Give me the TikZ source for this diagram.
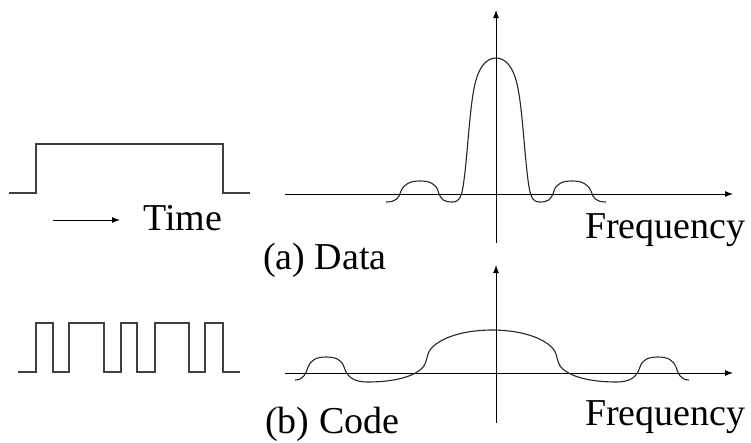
\documentclass[tikz,border=0pt]{standalone}
\usepackage{fontspec}
\setmainfont{Liberation Serif}
\usetikzlibrary{arrows.meta}

\begin{document}
\begin{tikzpicture}[x=1pt, y=-1pt, every node/.style={font=\fontsize{38}{40}\selectfont, inner sep=0pt}, >={Latex[length=8pt, width=6pt]},
	wave/.style={black!75, line width=1.3pt},
	axis/.style={->, line width=1pt},
	spec/.style={black!85, line width=1.1pt}]
	\useasboundingbox (0,0) rectangle (751,442);
	\draw[wave] (9,193) -| (36,144) -| (223,193) -- (250,193);
	\coordinate (tstart) at (53,220);
	\coordinate (tend) at (120,220);
	\draw[->, line width=1pt] (tstart) -- (tend);
	\node[anchor=base west] (time) at (143,230) {Time};
	\draw[wave] (18,372) -| (36,323) -| (53,372) -| (69,323) -| (104,372) -| (121,323) -| (137,372) -| (155,323) -| (189,372) -| (205,323) -| (223,372) -- (240,372);
	\coordinate (xa0) at (285,194);
	\coordinate (xa1) at (733,194);
	\coordinate (ya0) at (496,243);
	\coordinate (ya1) at (496,10);
	\draw[axis] (xa0) -- (xa1);
	\draw[axis] (ya0) -- (ya1);
	\draw[spec] (386,202) .. controls (396,202) and (399,198) .. (401,191)
		.. controls (404,184) and (410,181) .. (420,181)
		.. controls (430,181) and (436,184) .. (438,191)
		.. controls (441,200) and (444,202) .. (452,202)
		.. controls (460,202) and (462,196) .. (464,180)
		.. controls (468,150) and (470,100) .. (476,80)
		.. controls (480,66) and (487,58) .. (496,58)
		.. controls (505,58) and (512,66) .. (516,80)
		.. controls (522,100) and (524,150) .. (528,180)
		.. controls (530,196) and (532,202) .. (540,202)
		.. controls (548,202) and (551,200) .. (554,191)
		.. controls (556,184) and (562,181) .. (572,181)
		.. controls (582,181) and (588,184) .. (591,191)
		.. controls (593,198) and (596,202) .. (606,202);
	\node[anchor=base west] (freqa) at (585,238) {Frequency};
	\node[anchor=base west] (labela) at (263,269) {(a) Data};
	\coordinate (xb0) at (285,373);
	\coordinate (xb1) at (733,373);
	\coordinate (yb0) at (496,423);
	\coordinate (yb1) at (496,265);
	\draw[axis] (xb0) -- (xb1);
	\draw[axis] (yb0) -- (yb1);
	\draw[spec] (295,380) .. controls (303,380) and (306,374) .. (308,367)
		.. controls (311,360) and (316,357) .. (326,357)
		.. controls (336,357) and (342,360) .. (344,367)
		.. controls (347,376) and (352,382) .. (368,382)
		.. controls (390,382) and (410,378) .. (420,370)
		.. controls (426,366) and (426,360) .. (428,354)
		.. controls (433,340) and (460,330) .. (492,330)
		.. controls (524,330) and (551,340) .. (556,354)
		.. controls (558,360) and (558,366) .. (564,370)
		.. controls (574,378) and (594,382) .. (616,382)
		.. controls (632,382) and (637,376) .. (640,367)
		.. controls (642,360) and (648,357) .. (658,357)
		.. controls (668,357) and (673,360) .. (676,367)
		.. controls (678,374) and (681,380) .. (689,380);
	\node[anchor=base west] (freqb) at (585,425) {Frequency};
	\node[anchor=base west] (labelb) at (265,433) {(b) Code};
\end{tikzpicture}
\end{document}
